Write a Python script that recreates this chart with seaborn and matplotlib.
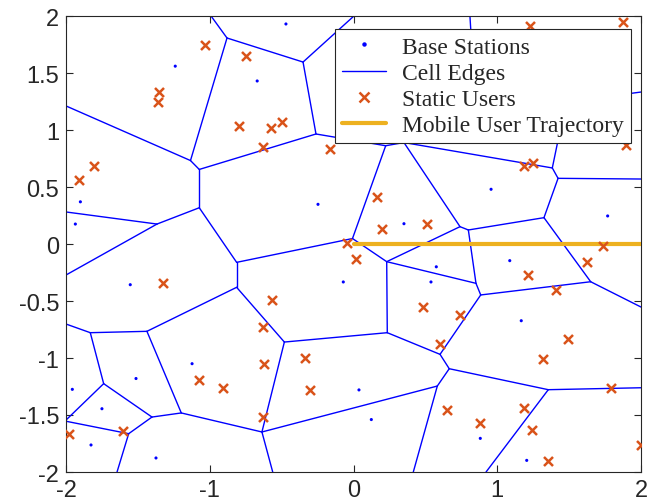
import numpy as np
import pandas as pd
import matplotlib
matplotlib.use("Agg")
import matplotlib.pyplot as plt
import seaborn as sns
from matplotlib.lines import Line2D

# ---------------- data ----------------
bs_x = [-1.24, -0.47, -0.67, -1.90, -1.935, -1.553, -0.247, -0.071, 0.957, 0.351,
        0.576, 0.539, 1.768, 1.087, 1.167, -1.123, -1.513, -1.956, -1.75, -1.826,
        -1.374, 0.038, 0.124, 0.882, 1.205]
bs_y = [1.56, 1.93, 1.43, 0.37, 0.175, -0.357, 0.348, -0.333, 0.48, 0.178,
        -0.20, -0.333, 0.246, -0.146, -0.673, -1.05, -1.18, -1.275, -1.445, -1.763,
        -1.877, -1.28, -1.54, -1.705, -1.898]

user_x = [-1.031, -1.355, -1.362, -1.807, -0.748, -0.799, -0.574, -0.50, -0.630, -0.166,
          1.226, 1.875, 1.896, 1.186, 1.251, -1.912, -1.327, -0.045, 0.017, -0.565,
          0.161, 0.196, 0.511, 0.486, 0.743, 1.733, 1.627, 1.216, 1.411, -1.077,
          -1.603, -1.977, -0.630, -0.621, -0.908, -0.335, -0.305, -0.628, 0.602, 0.648,
          0.882, 1.492, 1.318, 1.789, 1.188, 1.244, 1.355, 2.0]
user_y = [1.743, 1.333, 1.243, 0.687, 1.646, 1.038, 1.015, 1.068, 0.851, 0.831,
          1.915, 1.945, 0.871, 0.682, 0.711, 0.561, -0.339, 0.012, -0.132, -0.491,
          0.41, 0.129, 0.175, -0.553, -0.623, -0.015, -0.155, -0.272, -0.401, -1.196,
          -1.640, -1.669, -0.728, -1.055, -1.263, -0.997, -1.278, -1.518, -0.88, -1.453,
          -1.570, -0.833, -1.009, -1.263, -1.439, -1.629, -1.906, -1.766]

traj_x = [0.0, 2.0]
traj_y = [0.0, 0.0]

# Voronoi cell vertices
vertex_x = [-1.134, -0.880, -0.991, -0.351, 0.003, -0.261, -1.073, -1.073, -1.367, -2.0,
            -2.0, -2.0, -0.813, -0.813, -0.007, 0.224, 0.351, 0.741, 0.799, 0.231,
            0.235, 0.852, 0.885, 1.325, 1.423, 2.0, 1.383, 1.650, 2.0, 1.355,
            2.0, 0.922, 0.666, 0.602, 0.583, 0.416, -0.481, -0.637, -0.562, -1.437,
            -1.831, -2.0, -1.198, -1.738, -1.402, -1.564, -1.645, -2.007, 0.810, 0.845,
            1.478, 2.0]
vertex_y = [0.732, 1.807, 2.0, 1.596, 2.0, 0.965, 0.654, 0.318, 0.175, 1.211,
            0.281, -0.272, -0.161, -0.380, 0.048, 0.862, 0.890, 0.152, 0.123, -0.155,
            -0.778, -0.345, -0.447, 0.231, 0.576, 0.570, 0.667, -0.331, -0.553, -1.278,
            -1.261, -2.0, -1.094, -0.968, -1.246, -2.0, -0.860, -1.649, -2.0, -0.766,
            -0.778, -0.702, -1.482, -1.225, -1.518, -1.664, -2.0, -1.553, 2.0, 1.272,
            1.246, 1.333]
edge_from = [9, 0, 1, 1, 3, 3, 5, 0, 6, 7, 8, 8, 7, 12, 12, 5, 15, 15, 16, 16,
             17, 17, 14, 19, 19, 18, 18, 21, 22, 22, 23, 23, 24, 24, 27, 26, 50, 49, 49, 20,
             33, 32, 32, 29, 29, 34, 34, 20, 36, 36, 37, 37, 13, 39, 39, 40, 40, 43, 43, 44,
             44, 45, 45]
edge_to = [0, 1, 2, 3, 4, 5, 6, 6, 7, 8, 10, 11, 12, 14, 13, 15, 14, 16, 26, 17,
           19, 18, 19, 20, 21, 21, 23, 22, 27, 33, 24, 27, 26, 25, 28, 50, 51, 50, 48, 33,
           32, 29, 34, 30, 31, 35, 37, 36, 13, 37, 38, 42, 39, 40, 42, 41, 43, 47, 44, 42,
           45, 47, 46]

# ---------------- build tables ----------------
rows = []
for k, (a, b) in enumerate(zip(edge_from, edge_to)):
    rows.append({"edge": k, "order": 0, "x": vertex_x[a], "y": vertex_y[a]})
    rows.append({"edge": k, "order": 1, "x": vertex_x[b], "y": vertex_y[b]})
edges_df = pd.DataFrame(rows)
bs_df = pd.DataFrame({"x": bs_x, "y": bs_y})
users_df = pd.DataFrame({"x": user_x, "y": user_y})
traj_df = pd.DataFrame({"x": traj_x, "y": traj_y})

# ---------------- style ----------------
sns.set_theme(style="ticks")
plt.rcParams["font.family"] = ["Liberation Sans", "DejaVu Sans"]

edge_color = "#0000FF"
user_color = "#D95319"
traj_color = "#EDB120"
axis_color = "#262626"

fig = plt.figure(figsize=(6.64, 5.02), dpi=100)
ax = fig.add_axes([66 / 664, 1 - 473 / 502, 575 / 664, 456 / 502])

sns.lineplot(data=edges_df, x="x", y="y", units="edge", estimator=None, sort=False,
             color=edge_color, linewidth=1.0, ax=ax, legend=False)
sns.scatterplot(data=bs_df, x="x", y="y", color=edge_color, s=5, marker="o",
                edgecolor="none", ax=ax, legend=False, zorder=3)
sns.lineplot(data=traj_df, x="x", y="y", color=traj_color, linewidth=3.0,
             ax=ax, legend=False, sort=False, zorder=3)
sns.scatterplot(data=users_df, x="x", y="y", color=user_color, s=42, marker="x",
                linewidth=1.8, ax=ax, legend=False, zorder=4)

ax.set_xlim(-2, 2)
ax.set_ylim(-2, 2)
ax.set_xticks([-2, -1, 0, 1, 2])
ax.set_yticks(np.arange(-2, 2.01, 0.5))
ax.set_xticklabels(["-2", "-1", "0", "1", "2"])
ax.set_yticklabels(["-2", "-1.5", "-1", "-0.5", "0", "0.5", "1", "1.5", "2"])
ax.set_xlabel("")
ax.set_ylabel("")
ax.tick_params(direction="in", length=5, width=0.8, colors=axis_color,
               labelsize=17, top=True, right=True, pad=5)
for sp in ax.spines.values():
    sp.set_visible(True)
    sp.set_color(axis_color)
    sp.set_linewidth(0.8)

handles = [
    Line2D([], [], linestyle="none", marker="o", markersize=2.2, color=edge_color),
    Line2D([], [], color=edge_color, linewidth=1.0),
    Line2D([], [], linestyle="none", marker="x", markersize=7, markeredgewidth=1.8,
           color=user_color),
    Line2D([], [], color=traj_color, linewidth=3.0),
]
labels = ["Base Stations", "Cell Edges", "Static Users", "Mobile User Trajectory"]
leg = ax.legend(handles, labels, loc="upper right",
                bbox_to_anchor=((631 - 66) / 575, (473 - 30) / 456),
                borderaxespad=0, fancybox=False, framealpha=1,
                prop={"family": ["Liberation Serif", "DejaVu Serif"], "size": 17},
                handlelength=1.85, handletextpad=0.7, borderpad=0.3,
                labelspacing=0.2)
leg.get_frame().set_edgecolor(axis_color)
leg.get_frame().set_linewidth(0.8)
leg.set_zorder(10)

fig.savefig("out.png", dpi=100)
